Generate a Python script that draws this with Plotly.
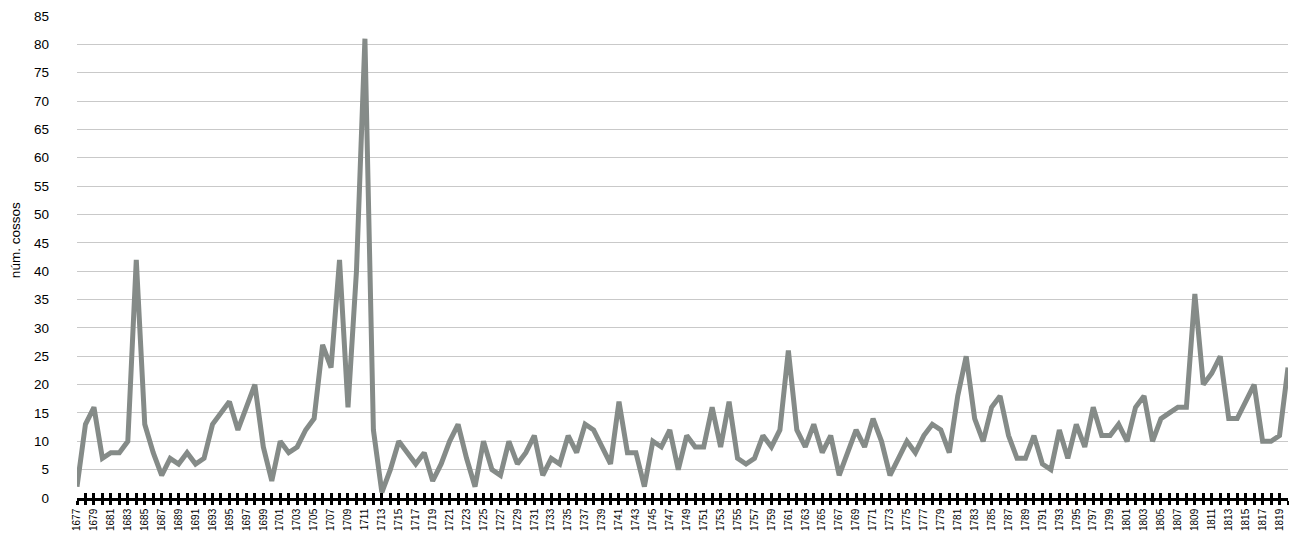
import plotly.graph_objects as go

years = list(range(1677, 1821))
counts = [
    2, 13, 16, 7, 8, 8, 10, 42, 13, 8,        # 1677-1686
    4, 7, 6, 8, 6, 7, 13, 15, 17, 12,         # 1687-1696
    16, 20, 9, 3, 10, 8, 9, 12, 14, 27,       # 1697-1706
    23, 42, 16, 40, 81, 12, 1, 5, 10, 8,      # 1707-1716
    6, 8, 3, 6, 10, 13, 7, 2, 10, 5,          # 1717-1726
    4, 10, 6, 8, 11, 4, 7, 6, 11, 8,          # 1727-1736
    13, 12, 9, 6, 17, 8, 8, 2, 10, 9,         # 1737-1746
    12, 5, 11, 9, 9, 16, 9, 17, 7, 6,         # 1747-1756
    7, 11, 9, 12, 26, 12, 9, 13, 8, 11,       # 1757-1766
    4, 8, 12, 9, 14, 10, 4, 7, 10, 8,         # 1767-1776
    11, 13, 12, 8, 18, 25, 14, 10, 16, 18,    # 1777-1786
    11, 7, 7, 11, 6, 5, 12, 7, 13, 9,         # 1787-1796
    16, 11, 11, 13, 10, 16, 18, 10, 14, 15,   # 1797-1806
    16, 16, 36, 20, 22, 25, 14, 14, 17, 20,   # 1807-1816
    10, 10, 11, 23,                           # 1817-1820
]
tick_labels = [str(y) if (y - 1677) % 2 == 0 else "" for y in years]
y_title = "núm. cossos"

LINE = "#858B88"
GRID = "#C9C9C9"
FONT = "Liberation Sans, Arial, sans-serif"

fig = go.Figure()
fig.add_trace(go.Scatter(
    x=years, y=counts, mode="lines",
    line=dict(color=LINE, width=5),
    hoverinfo="x+y", showlegend=False,
))
# invisible trace so the second (tick-only) x axis is drawn
fig.add_trace(go.Scatter(x=[years[0]], y=[None], xaxis="x2", yaxis="y",
                         showlegend=False, hoverinfo="skip"))

fig.update_layout(
    width=1289, height=533, autosize=False,
    margin=dict(l=77, r=1, t=16, b=35),
    paper_bgcolor="white", plot_bgcolor="white",
    font=dict(family=FONT, color="#000000"),
    xaxis=dict(
        range=[1677, 1820], tickmode="array",
        tickvals=years, ticktext=tick_labels,
        tickangle=-90, tickfont=dict(size=10, family=FONT),
        ticks="outside", ticklen=4, tickwidth=2.5, tickcolor="#000000",
        showline=True, linecolor="#000000", linewidth=2.5,
        showgrid=False, zeroline=False,
    ),
    xaxis2=dict(
        overlaying="x", matches="x", anchor="y", side="bottom",
        tickmode="array", tickvals=years, ticktext=[""] * len(years),
        ticks="inside", ticklen=5, tickwidth=2.5, tickcolor="#000000",
        showticklabels=False, showgrid=False, zeroline=False, showline=False,
    ),
    yaxis=dict(
        range=[0, 85], tickmode="linear", tick0=0, dtick=5,
        tickfont=dict(size=13.5, family=FONT),
        showgrid=True, gridcolor=GRID, gridwidth=1,
        zeroline=False, showline=False, ticks="",
        ticklabelstandoff=27,
    ),
    annotations=[dict(
        text=y_title, textangle=-90, xref="paper", yref="paper",
        x=-62 / 1211, y=0.535, xanchor="center", yanchor="middle",
        showarrow=False, font=dict(size=13.5, family=FONT, color="#000000"),
    )],
)

fig.write_html(
    "out.html",
    config={"displayModeBar": False},
    post_script="document.body.style.margin='0';document.body.style.overflow='hidden';",
)
